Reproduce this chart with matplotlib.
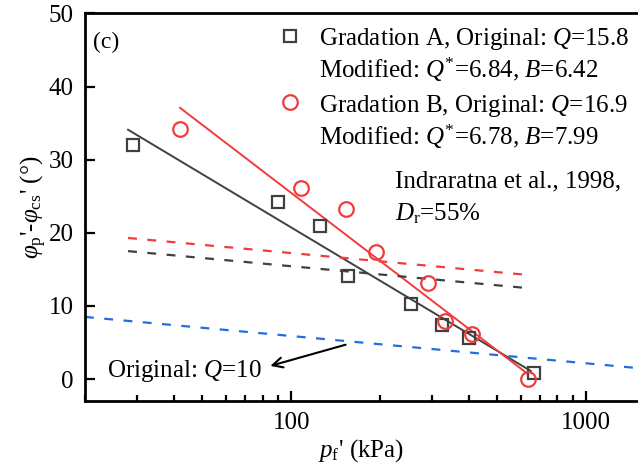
import matplotlib
matplotlib.use('Agg')
import matplotlib.pyplot as plt
from matplotlib.ticker import FixedLocator, LogLocator, NullFormatter

plt.rcParams['font.family'] = ['Liberation Serif', 'DejaVu Serif']
plt.rcParams['mathtext.fontset'] = 'custom'
plt.rcParams['mathtext.rm'] = 'Liberation Serif'
plt.rcParams['mathtext.it'] = 'Liberation Serif:italic'
plt.rcParams['mathtext.bf'] = 'Liberation Serif:bold'

# Gradation A (squares)
a_p = [29, 90, 125, 156, 254, 326, 402, 664]
a_phi = [32.0, 24.2, 21.0, 14.1, 10.3, 7.4, 5.6, 0.8]
# Gradation B (circles)
b_p = [42, 108, 153, 194, 290, 332, 412, 638]
b_phi = [34.2, 26.1, 23.3, 17.4, 13.1, 8.0, 6.2, 0.0]

# fitted lines (end points, straight in semi-log)
a_fit_p = [28, 650]
a_fit_phi = [34.1, 1.1]
b_fit_p = [42, 630]
b_fit_phi = [37.1, 0.8]

# modified Bolton lines
a_mod_p = [28, 650]
a_mod_phi = [17.5, 12.4]
b_mod_p = [28, 650]
b_mod_phi = [19.3, 14.2]

# original Bolton, Q=10
orig_p = [20, 1500]
orig_phi = [8.5, 1.5]

gray = '#404040'
red = '#f03c3c'
blue = '#1f6fe0'
dash = (0, (4, 4.7))
fs = 18

fig = plt.figure(figsize=(6.38, 4.70), dpi=100)
ax = fig.add_axes([0.1332, 0.1468, 0.8668, 0.8245])

ax.plot(a_fit_p, a_fit_phi, color=gray, lw=1.4)
ax.plot(b_fit_p, b_fit_phi, color=red, lw=1.4)
ax.plot(a_mod_p, a_mod_phi, color=gray, lw=1.6, ls=dash)
ax.plot(b_mod_p, b_mod_phi, color=red, lw=1.6, ls=dash)
ax.plot(orig_p, orig_phi, color=blue, lw=1.6, ls=dash)

ax.plot(a_p, a_phi, ls='none', marker='s', ms=9, mfc='none', mec=gray, mew=1.6)
ax.plot(b_p, b_phi, ls='none', marker='o', ms=10.5, mfc='none', mec=red, mew=1.6)

ax.set_xscale('log')
ax.set_xlim(20, 1500)
ax.set_ylim(-3, 50)
ax.yaxis.set_major_locator(FixedLocator([0, 10, 20, 30, 40, 50]))
ax.xaxis.set_major_locator(FixedLocator([100, 1000]))
ax.xaxis.set_minor_locator(LogLocator(base=10, subs=range(2, 10)))
ax.xaxis.set_minor_formatter(NullFormatter())
ax.set_xticklabels(['100', '1000'])

ax.spines['right'].set_visible(False)
for s in ['left', 'bottom', 'top']:
    ax.spines[s].set_linewidth(2)
ax.tick_params(which='both', direction='in', labelsize=fs, width=1.6, top=False, right=False, pad=8)
ax.tick_params(which='major', length=7)
ax.tick_params(which='minor', length=4)

ax.set_xlabel(r"$p_\mathrm{f}$' (kPa)", fontsize=fs, labelpad=2)
ax.set_ylabel(r"$\varphi_\mathrm{p}$'-$\varphi_\mathrm{cs}$' (°)", fontsize=fs, labelpad=0)

ax.text(0.014, 0.911, '(c)', transform=ax.transAxes, fontsize=fs - 1, va='baseline')

# legend-like block
ax.plot([0.371], [0.943], transform=ax.transAxes, marker='s', ms=9, mfc='none', mec=gray, mew=1.6, clip_on=False)
ax.plot([0.371], [0.772], transform=ax.transAxes, marker='o', ms=10.5, mfc='none', mec=red, mew=1.6, clip_on=False)
lx = 0.424
ax.text(lx, 0.919, r'Gradation A, Original: $Q$=15.8', transform=ax.transAxes, fontsize=fs, va='baseline')
ax.text(lx, 0.834, r'Modified: $Q^{*}$=6.84, $B$=6.42', transform=ax.transAxes, fontsize=fs, va='baseline')
ax.text(lx, 0.746, r'Gradation B, Original: $Q$=16.9', transform=ax.transAxes, fontsize=fs, va='baseline')
ax.text(lx, 0.661, r'Modified: $Q^{*}$=6.78, $B$=7.99', transform=ax.transAxes, fontsize=fs, va='baseline')

ax.text(0.561, 0.550, 'Indraratna et al., 1998,', transform=ax.transAxes, fontsize=fs, va='baseline')
ax.text(0.561, 0.467, r'$D_\mathrm{r}$=55%', transform=ax.transAxes, fontsize=fs, va='baseline')

ax.text(79.8, 0.3, r'Original: $Q$=10', fontsize=fs, ha='right', va='baseline')
ax.annotate('', xy=(85, 1.8), xytext=(153, 4.7),
            arrowprops=dict(arrowstyle='->', color='black', lw=1.5, mutation_scale=18,
                            shrinkA=0, shrinkB=0))

fig.savefig('out.png', dpi=100)
